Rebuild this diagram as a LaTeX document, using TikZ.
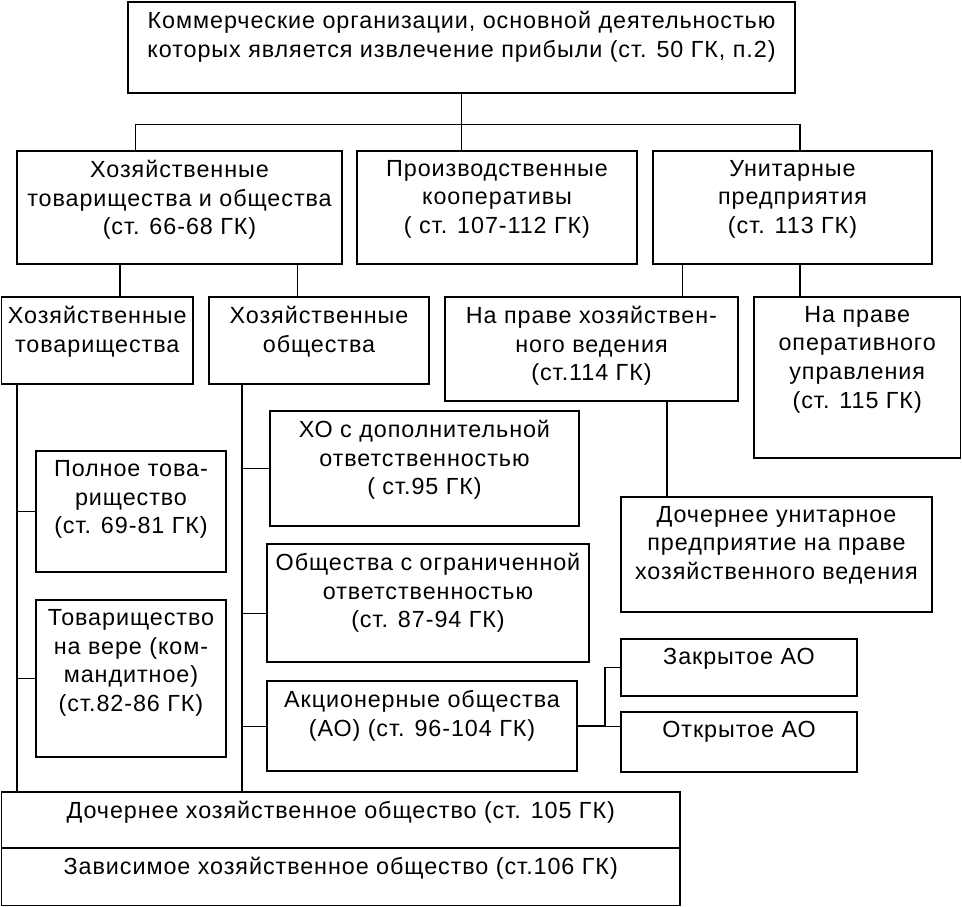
\documentclass[tikz,border=0pt]{standalone}
\usepackage{fontspec}
\setmainfont{Liberation Sans}[LetterSpace=4]
\usepackage{tikz}
\usetikzlibrary{positioning,fit}
\tikzset{
	box/.style={draw, line width=1.3pt, inner sep=0pt}, % frame of a box
	boxthin/.style={draw, line width=0.8pt, inner sep=0pt},
	txt/.style={align=center, inner sep=0pt, font=\fontsize{16.6}{20.4}\selectfont},
	link/.style={line width=1.3pt},
	linkthin/.style={line width=0.7pt},
}
\begin{document}
\begin{tikzpicture}[x=0.025cm, y=-0.025cm]
	\useasboundingbox (0,0) rectangle (962,907);

	% boxes
	\node[box, fit={(128,2) (795,93)}] (kom) {};
	\node[box, fit={(17,151) (342,264)}] (hoz) {};
	\node[box, fit={(357,151) (637,264)}] (proiz) {};
	\node[box, fit={(653,151) (932,264)}] (unit) {};
	\node[box, fit={(1.5,297) (193,384)}] (htov) {};
	\node[box, fit={(209,297) (429,384)}] (hob) {};
	\node[box, fit={(445,297) (738,401)}] (hozved) {};
	\node[box, fit={(754,297) (960.5,458)}] (operupr) {};
	\node[boxthin, fit={(36,451) (226,572)}] (polnoe) {};
	\node[boxthin, fit={(36,600) (226,757)}] (vera) {};
	\node[box, fit={(270,411) (579,526)}] (dopotv) {};
	\node[box, fit={(267,544) (589,662)}] (ooo) {};
	\node[box, fit={(267,681) (577,771)}] (ao) {};
	\node[box, fit={(621,497) (932,612)}] (dup) {};
	\node[boxthin, fit={(621,639) (857,696)}] (zao) {};
	\node[boxthin, fit={(621,712) (857,772)}] (oao) {};
	\node[box, fit={(1.5,792) (680,848)}] (doch) {};
	\node[box, fit={(1.5,848) (680,905.5)}] (zavis) {};

	% texts
	\node[txt, below=7pt of kom.north] (kom-t) {Коммерческие организации, основной деятельностью\\которых является извлечение прибыли (ст. 50 ГК, п.2)};
	\node[txt, below=7pt of hoz.north] (hoz-t) {Хозяйственные\\товарищества и общества\\(ст. 66-68 ГК)};
	\node[txt, below=7pt of proiz.north] (proiz-t) {Производственные\\кооперативы\\( ст. 107-112 ГК)};
	\node[txt, below=7pt of unit.north] (unit-t) {Унитарные\\предприятия\\(ст. 113 ГК)};
	\node[txt, below=7pt of htov.north] (htov-t) {Хозяйственные\\товарищества};
	\node[txt, below=7pt of hob.north] (hob-t) {Хозяйственные\\общества};
	\node[txt, below=7pt of hozved.north] (hozved-t) {На праве хозяйствен-\\ного ведения\\(ст.114 ГК)};
	\node[txt, below=7pt of operupr.north] (operupr-t) {На праве\\оперативного\\управления\\(ст. 115 ГК)};
	\node[txt, below=7pt of polnoe.north] (polnoe-t) {Полное това-\\рищество\\(ст. 69-81 ГК)};
	\node[txt, below=7pt of vera.north] (vera-t) {Товарищество\\на вере (ком-\\мандитное)\\(ст.82-86 ГК)};
	\node[txt, below=7pt of dopotv.north] (dopotv-t) {ХО с дополнительной\\ответственностью\\( ст.95 ГК)};
	\node[txt, below=7pt of ooo.north] (ooo-t) {Общества с ограниченной\\ответственностью\\(ст. 87-94 ГК)};
	\node[txt, below=7pt of ao.north] (ao-t) {Акционерные общества\\(АО) (ст. 96-104 ГК)};
	\node[txt, below=7pt of dup.north] (dup-t) {Дочернее унитарное\\предприятие на праве\\хозяйственного ведения};
	\node[txt, below=7pt of zao.north] (zao-t) {Закрытое АО};
	\node[txt, below=7pt of oao.north] (oao-t) {Открытое АО};
	\node[txt, below=7pt of doch.north] (doch-t) {Дочернее хозяйственное общество (ст. 105 ГК)};
	\node[txt, below=7pt of zavis.north] (zavis-t) {Зависимое хозяйственное общество (ст.106 ГК)};

	% connectors
	\coordinate (busL) at (135,124);
	\coordinate (busR) at (800,124);
	\draw[linkthin] (kom.south) -- (kom.south |- proiz.north);
	\draw[linkthin] (busL) -- (busR);
	\draw[linkthin] (busL) -- (busL |- hoz.north);
	\draw[link] (busR) -- (busR |- unit.north);
	\draw[link] (120,0 |- hoz.south) -- (120,0 |- htov.north);
	\draw[linkthin] (297,0 |- hoz.south) -- (297,0 |- hob.north);
	\draw[linkthin] (682,0 |- unit.south) -- (682,0 |- hozved.north);
	\draw[link] (800,0 |- unit.south) -- (800,0 |- operupr.north);
	\draw[link] (667,0 |- hozved.south) -- (667,0 |- dup.north);

	\draw[link] (17,0 |- htov.south) -- (17,0 |- doch.north);
	\draw[linkthin] (polnoe.west) -- (polnoe.west -| 17,0);
	\draw[link] (vera.west) -- (vera.west -| 17,0);

	\draw[link] (242,0 |- hob.south) -- (242,0 |- doch.north);
	\draw[link] (dopotv.west) -- (dopotv.west -| 242,0);
	\draw[linkthin] (ooo.west |- 0,613) -- (242,613);
	\draw[linkthin] (ao.west) -- (ao.west -| 242,0);

	\draw[link] (ao.east) -- (ao.east -| 605,0) |- (zao.west);
	\draw[linkthin] (ao.east -| 605,0) -- (oao.west |- ao.east);
\end{tikzpicture}
\end{document}
